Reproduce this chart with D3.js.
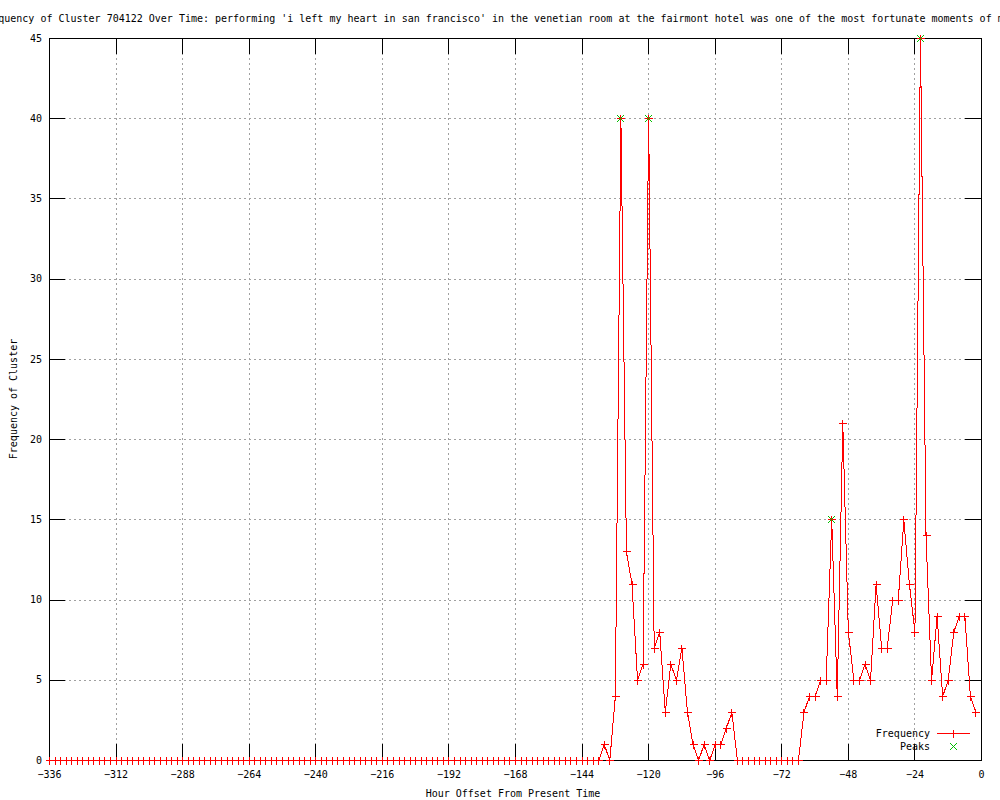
<!DOCTYPE html>
<html>
<head>
<meta charset="utf-8">
<script src="https://cdn.jsdelivr.net/npm/d3@7"></script>
<style>
  body { margin: 0; background: #fff; }
  svg { display: block; font-family: 'DejaVu Sans Mono', monospace; font-size: 10px; }
  .grid line { stroke: #a0a0a0; stroke-dasharray: 2,3; shape-rendering: crispEdges; }
  .grid .domain { display: none; }
  .ticks line { stroke: #000; shape-rendering: crispEdges; }
  .ticks .domain { display: none; }
  .ticks text { fill: #000; font-family: 'DejaVu Sans Mono', monospace; font-size: 10px; }
</style>
</head>
<body>
<svg class="chart"></svg>
<script>
'use strict';

var title = "Frequency of Cluster 704122 Over Time: performing 'i left my heart in san francisco' in the venetian room at the fairmont hotel was one of the most fortunate moments of my life";
var xLabel = 'Hour Offset From Present Time',
    yLabel = 'Frequency of Cluster';

// one point every 2 hours, from -336 to -2
var hours = d3.range(-336, 0, 2);
var frequency = [
    0, 0, 0, 0, 0, 0, 0, 0, 0, 0,
    0, 0, 0, 0, 0, 0, 0, 0, 0, 0,
    0, 0, 0, 0, 0, 0, 0, 0, 0, 0,
    0, 0, 0, 0, 0, 0, 0, 0, 0, 0,
    0, 0, 0, 0, 0, 0, 0, 0, 0, 0,
    0, 0, 0, 0, 0, 0, 0, 0, 0, 0,
    0, 0, 0, 0, 0, 0, 0, 0, 0, 0,
    0, 0, 0, 0, 0, 0, 0, 0, 0, 0,
    0, 0, 0, 0, 0, 0, 0, 0, 0, 0,
    0, 0, 0, 0, 0, 0, 0, 0, 0, 0,
    1, 0, 4, 40, 13, 11, 5, 6, 40, 7,
    8, 3, 6, 5, 7, 3, 1, 0, 1, 0,
    1, 1, 2, 3, 0, 0, 0, 0, 0, 0,
    0, 0, 0, 0, 0, 0, 3, 4, 4, 5,
    5, 15, 4, 21, 8, 5, 5, 6, 5, 11,
    7, 7, 10, 10, 15, 11, 8, 45, 14, 5,
    9, 4, 5, 8, 9, 9, 4, 3
];
var peakHours = [-130, -120, -54, -22],
    peakValues = [40, 40, 15, 45];

var xTicks = [-336, -312, -288, -264, -240, -216, -192, -168, -144, -120, -96, -72, -48, -24, 0],
    yTicks = [0, 5, 10, 15, 20, 25, 30, 35, 40, 45];
var legendNames = ['Frequency', 'Peaks'];

var drawChart = function() {
    var svgWidth = 1000,
        svgHeight = 800,
        margin = { top: 38, left: 49 },
        width = 932,
        height = 722,
        tick = 16,
        red = '#ff0000',
        green = '#00c000';

    var svg = d3.select('svg.chart')
        .attr('width', svgWidth)
        .attr('height', svgHeight);

    var data = hours.map(function(h, i) { return { hour: h, value: frequency[i] }; });
    var peaks = peakHours.map(function(h, i) { return { hour: h, value: peakValues[i] }; });

    var xScale = d3.scaleLinear().domain([-336, 0]).range([0, width]);
    var yScale = d3.scaleLinear().domain([0, 45]).range([height, 0]);

    var g = svg.append('g').attr('transform', 'translate(' + margin.left + ',' + margin.top + ')');

    // dotted grid
    g.append('g').attr('class', 'grid')
        .attr('transform', 'translate(0,' + height + ')')
        .call(d3.axisBottom(xScale).tickValues(xTicks).tickSize(-height).tickFormat(''));
    g.append('g').attr('class', 'grid')
        .call(d3.axisLeft(yScale).tickValues(yTicks).tickSize(-width).tickFormat(''));

    // tick marks on all four sides, pointing inward
    g.append('g').attr('class', 'ticks')
        .attr('transform', 'translate(0,' + height + ')')
        .call(d3.axisBottom(xScale).tickValues(xTicks).tickSizeInner(-tick).tickSizeOuter(0).tickPadding(11));
    g.append('g').attr('class', 'ticks')
        .call(d3.axisTop(xScale).tickValues(xTicks).tickSizeInner(-tick).tickSizeOuter(0).tickFormat(''));
    g.append('g').attr('class', 'ticks')
        .call(d3.axisLeft(yScale).tickValues(yTicks).tickSizeInner(-tick).tickSizeOuter(0).tickPadding(7));
    g.append('g').attr('class', 'ticks')
        .attr('transform', 'translate(' + width + ',0)')
        .call(d3.axisRight(yScale).tickValues(yTicks).tickSizeInner(-tick).tickSizeOuter(0).tickFormat(''));

    g.append('rect')
        .attr('x', 0.5).attr('y', 0.5)
        .attr('width', width).attr('height', height)
        .attr('fill', 'none').attr('stroke', '#000')
        .attr('shape-rendering', 'crispEdges');

    var line = d3.line()
        .x(function(d) { return xScale(d.hour) + 0.5; })
        .y(function(d) { return yScale(d.value) + 0.5; });

    g.append('path').attr('d', line(data))
        .attr('stroke', red)
        .attr('stroke-width', 1)
        .attr('fill', 'none')
        .attr('shape-rendering', 'crispEdges');

    var plus = function(cx, cy) {
        return 'M' + (cx - 4) + ',' + cy + 'H' + (cx + 4) + 'M' + cx + ',' + (cy - 4) + 'V' + (cy + 4);
    };
    var cross = function(cx, cy) {
        return 'M' + (cx - 3.5) + ',' + (cy - 3.5) + 'L' + (cx + 3.5) + ',' + (cy + 3.5) +
            'M' + (cx - 3.5) + ',' + (cy + 3.5) + 'L' + (cx + 3.5) + ',' + (cy - 3.5);
    };

    g.append('g').selectAll('path')
        .data(data)
        .enter()
        .append('path')
        .attr('d', function(d) { return plus(Math.round(xScale(d.hour)) + 0.5, Math.round(yScale(d.value)) + 0.5); })
        .attr('stroke', red)
        .attr('fill', 'none')
        .attr('shape-rendering', 'crispEdges');

    g.append('g').selectAll('path')
        .data(peaks)
        .enter()
        .append('path')
        .attr('d', function(d) { return cross(Math.round(xScale(d.hour)) + 0.5, Math.round(yScale(d.value)) + 0.5); })
        .attr('stroke', green)
        .attr('fill', 'none')
        .attr('shape-rendering', 'crispEdges');

    // key
    var key = svg.append('g').attr('class', 'key');
    key.append('text').attr('x', 930).attr('y', 736.5).attr('text-anchor', 'end').text(legendNames[0]);
    key.append('path').attr('d', 'M937,733.5H970').attr('stroke', red).attr('shape-rendering', 'crispEdges');
    key.append('path').attr('d', plus(953.5, 733.5)).attr('stroke', red).attr('shape-rendering', 'crispEdges');
    key.append('text').attr('x', 930).attr('y', 750).attr('text-anchor', 'end').text(legendNames[1]);
    key.append('path').attr('d', cross(953.5, 746.5)).attr('stroke', green).attr('fill', 'none').attr('shape-rendering', 'crispEdges');

    // titles
    svg.append('text').attr('x', margin.left + width / 2 - 5).attr('y', 22)
        .attr('text-anchor', 'middle').text(title);
    svg.append('text').attr('x', margin.left + width / 2 - 2).attr('y', 797)
        .attr('text-anchor', 'middle').text(xLabel);
    svg.append('text')
        .attr('transform', 'translate(17,' + (margin.top + height / 2) + ') rotate(-90)')
        .attr('text-anchor', 'middle').text(yLabel);
};

drawChart();
</script>
</body>
</html>
